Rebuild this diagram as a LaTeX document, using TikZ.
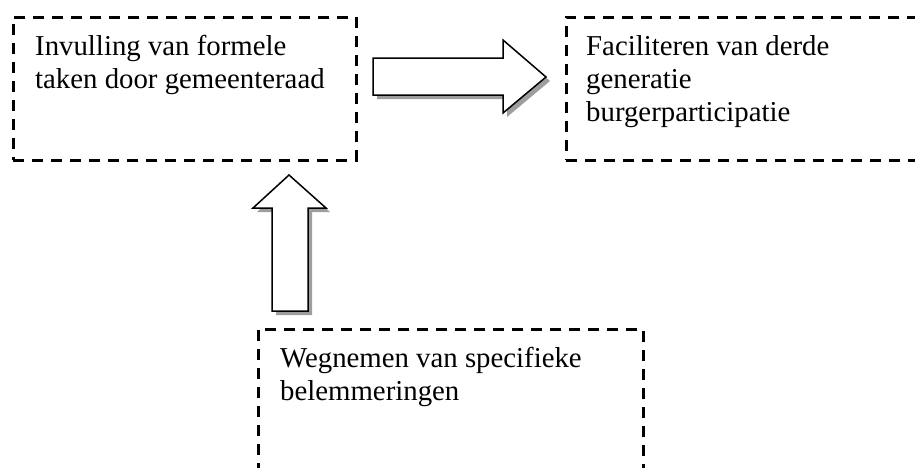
\documentclass[tikz,border=0pt]{standalone}
\usepackage{fontspec}
\setmainfont{Liberation Serif}
\begin{document}
\begin{tikzpicture}[x=1pt,y=-1pt,
  dbox/.style={draw=black, line width=2.8pt, dash pattern=on 11pt off 8pt, rectangle, inner sep=0pt, anchor=north west},
  btext/.style={anchor=north west, inner sep=0pt, align=left, font=\fontsize{28.8}{33}\selectfont},
  shadowfill/.style={fill=black!38, draw=none},
  arrowbody/.style={fill=white, draw=black, line width=1.5pt, line join=miter}]
\useasboundingbox (0,0) rectangle (915,467);
\clip (0,0) rectangle (915,467);
% boxes
\node[dbox, minimum width=343pt, minimum height=143pt] (formele) at (12,16) {};
\node[dbox, minimum width=380pt, minimum height=143pt] (derde) at (565,16) {};
\node[dbox, minimum width=385pt, minimum height=160pt] (wegnemen) at (257,328) {};
% texts
\node[btext] (t1) at (35,35) {\rule{0pt}{20pt}Invulling van formele\\taken door gemeenteraad};
\node[btext] (t2) at (586,35) {\rule{0pt}{20pt}Faciliteren van derde\\generatie\\burgerparticipatie};
\node[btext] (t3) at (280,347) {\rule{0pt}{20pt}Wegnemen van specifieke\\belemmeringen};
% right block arrow
\coordinate (ra) at (373,58);
\begin{scope}[shift={(ra)}]
  \fill[shadowfill] (4,4) -- (134,4) -- (134,-14) -- (177,23) -- (134,59) -- (134,41) -- (4,41) -- cycle;
  \draw[arrowbody] (0,0) -- (130,0) -- (130,-18) -- (173,19) -- (130,55) -- (130,37) -- (0,37) -- cycle;
\end{scope}
% up block arrow
\coordinate (ua) at (289,175);
\begin{scope}[shift={(ua)}]
  \fill[shadowfill] (4,4) -- (41,37) -- (23,37) -- (23,140) -- (-13,140) -- (-13,37) -- (-32,37) -- cycle;
  \draw[arrowbody] (0,0) -- (37,33) -- (19,33) -- (19,136) -- (-17,136) -- (-17,33) -- (-36,33) -- cycle;
\end{scope}
\end{tikzpicture}
\end{document}
